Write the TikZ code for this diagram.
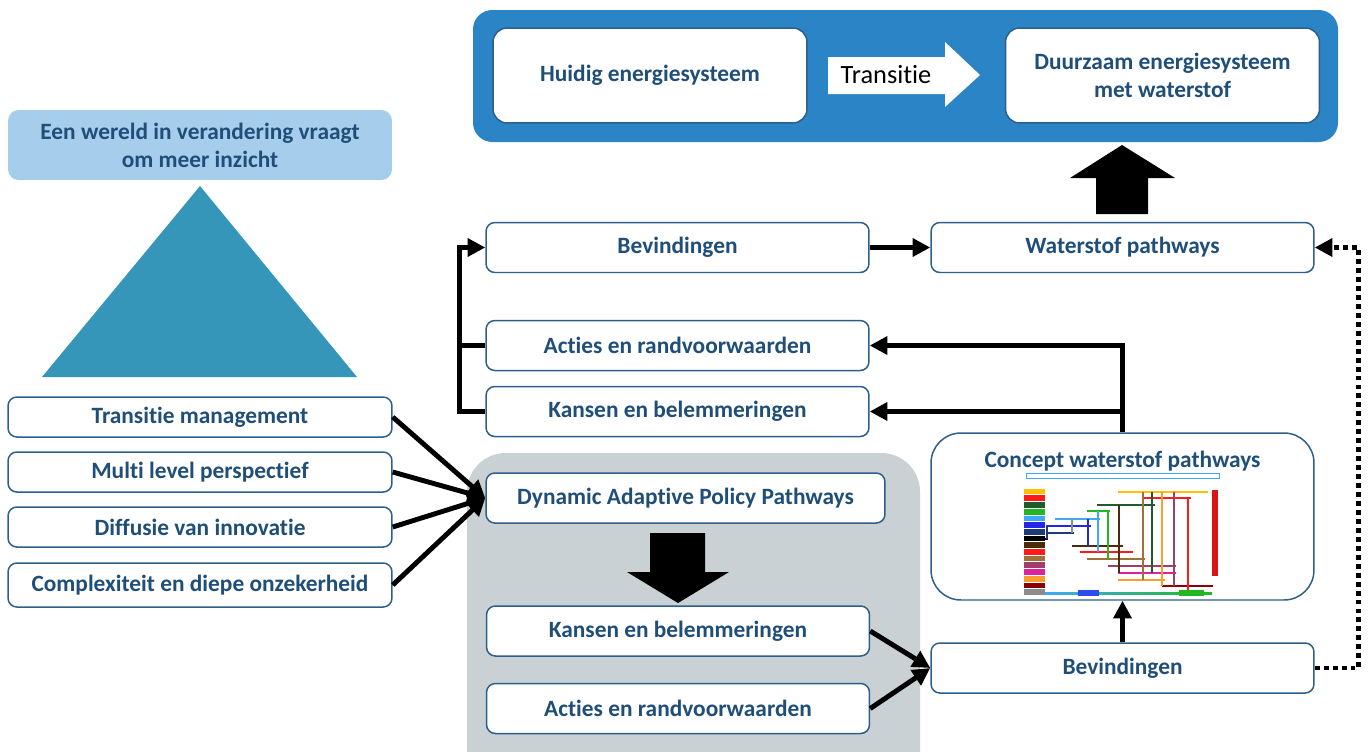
\documentclass[tikz,border=0pt]{standalone}
\usepackage{fontspec}
\setmainfont{Carlito}[Ligatures=NoCommon]
\usetikzlibrary{arrows.meta}

\definecolor{topblue}{HTML}{2A84C6}
\definecolor{lightblue}{HTML}{A6CEEC}
\definecolor{triblue}{HTML}{3596BA}
\definecolor{graybg}{HTML}{C9D1D4}
\definecolor{boxline}{HTML}{2E5F8B}
\definecolor{boxtext}{HTML}{1F4E79}
% colours of the small roadmap
\definecolor{chyellow}{HTML}{FFC000}
\definecolor{chred}{HTML}{FF1A1A}
\definecolor{chdkgreen}{HTML}{1E5C2E}
\definecolor{chgreen}{HTML}{22B822}
\definecolor{chltblue}{HTML}{3FA9F5}
\definecolor{chblue}{HTML}{2626E6}
\definecolor{chnavy}{HTML}{1F3A7A}
\definecolor{chdkbrown}{HTML}{4A2C0A}
\definecolor{chbrown}{HTML}{A0703A}
\definecolor{chpurple}{HTML}{A0406A}
\definecolor{chmagenta}{HTML}{E020A0}
\definecolor{chorange}{HTML}{F7A030}
\definecolor{chdkred}{HTML}{8B0000}
\definecolor{chgray}{HTML}{8C8C8C}

\tikzset{
  box/.style={draw=boxline, line width=0.85pt, fill=white, rounded corners=5pt,
    text=boxtext, font=\fontsize{13.3}{16}\selectfont\bfseries, align=center,
    inner sep=0pt, minimum width=7.66cm, minimum height=1cm},
  bigbox/.style={box, rounded corners=8pt, minimum width=6.28cm, minimum height=1.9cm},
  conn/.style={line width=2.8pt, -{Triangle[length=10pt,width=10pt]}},
  line/.style={line width=2.8pt},
  dotconn/.style={line width=2.8pt, dash pattern=on 2.8pt off 2.3pt,
    -{Triangle[length=10pt,width=10pt]}},
}

\begin{document}
\begin{tikzpicture}[x=0.02cm,y=-0.02cm]
        \useasboundingbox (0,0) rectangle (1368,751) ;
        % backgrounds
        \fill[topblue,rounded corners=11pt] (473,10) rectangle (1338,142) ;
        \fill[graybg,rounded corners=22pt] (467,453) rectangle (920,800) ;
        \fill[triblue] (200,186) -- (357,377) -- (42,377) -- cycle ;
        \node[box,draw=none,fill=lightblue,rounded corners=6pt,minimum width=7.68cm,
          minimum height=1.4cm] (wereld) at (200,145)
          {Een wereld in verandering vraagt\\om meer inzicht} ;

        % transition on top
        \node[bigbox] (huidig) at (650,75.5) {Huidig energiesysteem} ;
        \node[bigbox] (duurzaam) at (1162.5,75.5) {Duurzaam energiesysteem\\met waterstof} ;
        \fill[white] (828,57) -- (945,57) -- (945,42) -- (980,75) -- (945,107)
          -- (945,94) -- (828,94) -- cycle ;
        \node[font=\fontsize{15}{17}\selectfont] (transitie) at (886,75) {Transitie} ;

        % theories on the left
        \node[box,minimum width=7.68cm,minimum height=0.8cm] (tm) at (200,417) {Transitie management} ;
        \node[box,minimum width=7.68cm,minimum height=0.8cm] (mlp) at (200,472) {Multi level perspectief} ;
        \node[box,minimum width=7.68cm,minimum height=0.8cm] (diff) at (200,527) {Diffusie van innovatie} ;
        \node[box,minimum width=7.68cm,minimum height=0.88cm] (compl) at (200,585) {Complexiteit en diepe onzekerheid} ;

        % DAPP part
        \node[box,minimum width=7.98cm] (dapp) at (685.5,498) {Dynamic Adaptive Policy Pathways} ;
        \fill[black] (650,533) -- (705,533) -- (705,572) -- (729,572) -- (678,603)
          -- (627,572) -- (650,572) -- cycle ;
        \node[box] (kanslow) at (678,631) {Kansen en belemmeringen} ;
        \node[box] (actlow) at (678,708.5) {Acties en randvoorwaarden} ;

        % upper middle column
        \node[box] (bevup) at (677.5,247.5) {Bevindingen} ;
        \node[box] (actup) at (677.5,345.5) {Acties en randvoorwaarden} ;
        \node[box] (kansup) at (677.5,411.5) {Kansen en belemmeringen} ;

        % right column
        \node[box] (wp) at (1122.5,247.5) {Waterstof pathways} ;
        \node[box,rounded corners=17pt,minimum height=3.34cm] (concept) at (1122.5,516.5) {} ;
        \node[text=boxtext,font=\fontsize{13.3}{16}\selectfont\bfseries] (concepttitle)
          at (1122.5,461) {Concept waterstof pathways} ;
        \node[box] (bevlow) at (1122.5,668) {Bevindingen} ;
        \fill[black] (1096,214) -- (1096,178) -- (1070,178) -- (1122,145) -- (1175,178)
          -- (1148,178) -- (1148,214) -- cycle ;

        % small roadmap inside the concept box
        \draw[chltblue,line width=0.4pt] (1026,473) rectangle (1219,478) ;
        \foreach \c [count=\i from 0] in {chyellow,chred,chdkgreen,chgreen,chltblue,chblue,
          chnavy,black,chdkbrown,chred,chbrown,chpurple,chmagenta,chorange,chdkred,chgray}
          \fill[\c] (1024,{488.7+6.7*\i}) rectangle (1045,{494.4+6.7*\i}) ;
        \foreach \y/\a/\b/\c in {492/1118/1208/chyellow, 498/1143/1191/chred,
          505/1097/1155/chdkgreen, 511/1087/1110/chgreen, 519/1055/1100/chltblue,
          526/1047/1091/chblue, 533/1047/1074/chnavy, 539/1045/1048/black,
          546/1072/1123/chdkbrown, 552/1080/1133/chred, 559/1087/1145/chbrown,
          566/1108/1176/chpurple, 573/1118/1176/chmagenta, 580/1118/1165/chorange,
          586/1162/1213/chdkred}
          \draw[\c,line width=0.6pt] (\a,\y) -- (\b,\y) ;
        \foreach \x/\a/\b/\c in {1047/525/539/chnavy, 1072/519/533/chgray,
          1088/519/546/chblue, 1098/511/552/chltblue, 1108/511/559/chgreen,
          1119/505/573/chdkbrown, 1143/492/580/chbrown, 1152/492/573/chdkgreen,
          1162/492/586/chorange, 1174/492/586/chpurple, 1188/498/593/chred}
          \draw[\c,line width=0.6pt] (\x,\a) -- (\x,\b) ;
        \fill[chred!85!black] (1212,490) rectangle (1218,576) ;
        \shade[left color=chltblue,right color=chgreen] (1045,592) rectangle (1212,594.5) ;
        \fill[chblue!70!chltblue] (1078,590) rectangle (1099,596) ;
        \fill[chgreen] (1179,590) rectangle (1204,596) ;

        % connectors
        \foreach \n in {tm,mlp,diff,compl}
          \draw[conn] (\n.east) -- (dapp.west) ;
        \draw[conn] (kanslow.east) -- (bevlow.west) ;
        \draw[conn] (actlow.east) -- (bevlow.west) ;
        \draw[conn] (bevlow.north) -- (concept.south) ;
        \draw[conn] (concept.north) |- (actup.east) ;
        \draw[conn] (concept.north |- kansup.east) -- (kansup.east) ;
        \draw[conn] (kansup.west) -- ++(-26,0) |- (bevup.west) ;
        \draw[line] (actup.west) -- ++(-26,0) ;
        \draw[conn] (bevup.east) -- (wp.west) ;
        \draw[dotconn] (bevlow.east) -- ++(44,0) |- (wp.east) ;
      \end{tikzpicture}
\end{document}
